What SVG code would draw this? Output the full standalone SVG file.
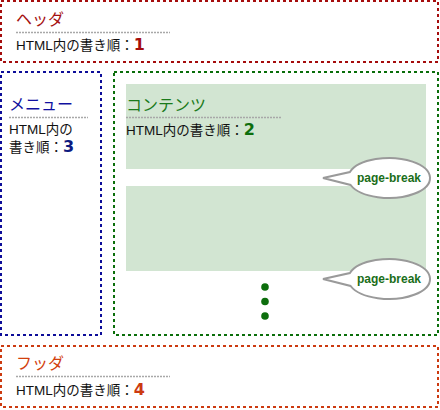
<svg xmlns="http://www.w3.org/2000/svg" width="440" height="410" viewBox="0 0 440 410">
<style>
.box{fill:none;stroke-width:2;stroke-dasharray:3 3}
.ttl{font-family:"Noto Sans CJK JP","Liberation Sans",sans-serif;font-size:16px}
.txt{font-family:"Liberation Sans","Noto Sans CJK JP",sans-serif;font-size:13.5px;fill:#111}
.num{font-family:"DejaVu Sans",sans-serif;font-weight:bold;font-size:16px}
.sep{stroke:#a8a8a8;stroke-width:1.5;stroke-dasharray:2 1}
.blk{fill:#d2e5d2}
.bub{fill:#fff;stroke:#9a9a9a;stroke-width:2}
.pb{font-family:"Liberation Sans",sans-serif;font-weight:bold;font-size:12px;fill:#1a6e1a;text-anchor:middle}
.dot{fill:#0d6e0d}
</style>
<g id="header">
<rect class="box" x="1" y="1" width="437" height="61" stroke="#a50d0d"/>
<text class="ttl" x="16" y="25" fill="#a51010">ヘッダ</text>
<line class="sep" x1="16" y1="32.5" x2="170" y2="32.5"/>
<text class="txt" x="16" y="50">HTML内の書き順：<tspan class="num" fill="#a50d0d">1</tspan></text>
</g>
<g id="menu">
<rect class="box" x="1" y="72" width="100" height="263" stroke="#0d0d99"/>
<text class="ttl" x="9" y="110" fill="#1010a0">メニュー</text>
<line class="sep" x1="9" y1="117.5" x2="88" y2="117.5"/>
<text class="txt" x="9" y="134">HTML内の</text>
<text class="txt" x="9" y="152">書き順：<tspan class="num" fill="#0d1a80">3</tspan></text>
</g>
<g id="content">
<rect class="box" x="114" y="72" width="324" height="263" stroke="#0b6e0b"/>
<rect class="blk" x="126" y="84" width="300" height="85"/>
<rect class="blk" x="126" y="186" width="300" height="85"/>
<text class="ttl" x="126" y="111" fill="#1a7a1a">コンテンツ</text>
<line class="sep" x1="126" y1="117.5" x2="281" y2="117.5"/>
<text class="txt" x="126" y="135">HTML内の書き順：<tspan class="num" fill="#0d6e0d">2</tspan></text>
<circle class="dot" cx="265" cy="287" r="3.8"/>
<circle class="dot" cx="265" cy="301.5" r="3.8"/>
<circle class="dot" cx="265" cy="316" r="3.8"/>
</g>
<g id="pagebreak1">
<path class="bub" d="M350.6,185 A41,20 0 1 0 349.9,172 L323,178 Z"/>
<text class="pb" x="389" y="182">page-break</text>
</g>
<g id="pagebreak2">
<path class="bub" d="M350.6,286 A41,20 0 1 0 349.9,273 L323,279 Z"/>
<text class="pb" x="389" y="283">page-break</text>
</g>
<g id="footer">
<rect class="box" x="1" y="346" width="437" height="61" stroke="#cc3a10"/>
<text class="ttl" x="16" y="369" fill="#d2400c">フッダ</text>
<line class="sep" x1="16" y1="376.5" x2="170" y2="376.5"/>
<text class="txt" x="16" y="395">HTML内の書き順：<tspan class="num" fill="#cc3a10">4</tspan></text>
</g>
<g id="connectors"/>
</svg>
